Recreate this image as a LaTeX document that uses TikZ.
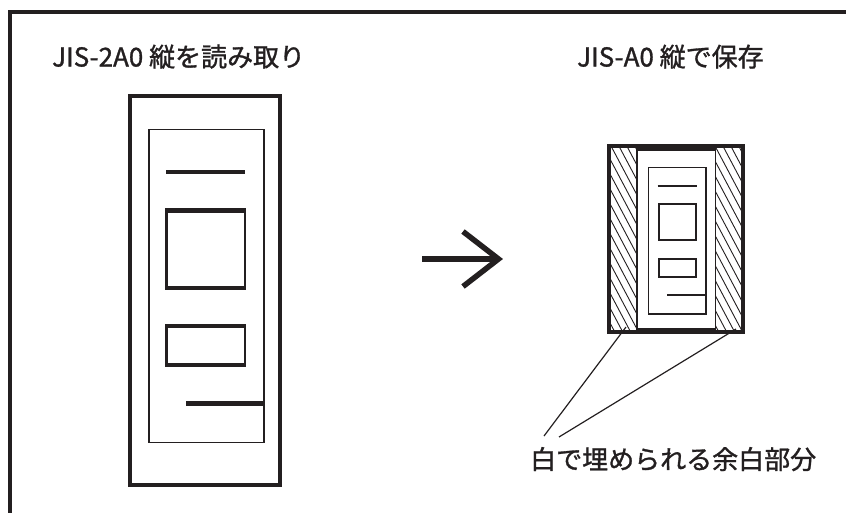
\documentclass[tikz,border=0pt]{standalone}
\usepackage{fontspec}
\setmainfont{Noto Sans CJK JP}
\newfontfamily\lblfont{Noto Sans CJK JP}[FakeBold=1.2]
\definecolor{ink}{RGB}{35,31,32}
\begin{document}
\begin{tikzpicture}[x=1pt,y=-1pt,color=ink,
  lbltext/.style={inner sep=0pt,text=ink,font=\lblfont\fontsize{26}{30}\selectfont,anchor=base west},
  thin/.style={line width=1.5pt},
  thick4/.style={line width=4.5pt},
  hatch/.style={line width=0.9pt}]
\useasboundingbox (0,0) rectangle (846,512);
\begin{scope}
\clip (0,0) rectangle (846,512);
% frame
\draw[line width=4pt] (10,530) -- (10,12) -- (860,12);
\end{scope}
% titles
\node[lbltext] (t1) at (52,66.5) {JIS-2A0 縦を読み取り};
\node[lbltext] (t2) at (577,66.5) {JIS-A0 縦で保存};
% left document
\draw[line width=4pt] (129.7,95.5) rectangle (280,485);
\draw[thin] (149,129.3) rectangle (264,442.3);
\draw[thick4] (166,172) -- (245,172);
\draw[line width=2.2pt] (166.5,210.8) rectangle (244.8,287.5);
\draw[thick4] (165.4,210.3) -- (245.9,210.3) (165.4,288) -- (245.9,288);
\draw[line width=2.2pt] (166.5,326.5) rectangle (244.8,364.5);
\draw[thick4] (165.4,326) -- (245.9,326) (165.4,364.8) -- (245.9,364.8);
\draw[thick4] (186,403.3) -- (264,403.3);
% arrow
\coordinate (arrS) at (422,259);
\coordinate (arrE) at (498.5,259);
\draw[line width=5.5pt] (arrS) -- (arrE);
\draw[line width=5.5pt,line join=miter,miter limit=10] (463,231.5) -- (arrE) -- (463,286.5);
% right document hatching
\begin{scope}
\clip (609,146) rectangle (637,332);
\foreach \i in {-28,...,6} {
  \draw[hatch] ({611+7.9*\i},146) -- ++(105,198);
}
\end{scope}
\begin{scope}
\clip (716,146) rectangle (742.5,332);
\foreach \i in {-28,...,6} {
  \draw[hatch] ({715+7.9*\i},146) -- ++(105,198);
}
\end{scope}
\draw[line width=4pt] (609,146) rectangle (742.5,332);
\draw[line width=1.5pt] (637,146) -- (637,332) (715.5,146) -- (715.5,332);
\draw[line width=6pt] (637,147.5) -- (715.5,147.5) (637,330.5) -- (715.5,330.5);
\draw[line width=1.4pt] (648.3,167.3) rectangle (706,314);
\draw[line width=2pt] (657.7,185.7) -- (696.7,185.7);
\draw[line width=2pt] (658.5,204) rectangle (696,240);
\draw[line width=2pt] (658.5,259) rectangle (696,276.5);
\draw[line width=2pt] (667.3,295) -- (706,295);
% callout
\node[lbltext] (lbl) at (530,469) {白で埋められる余白部分};
\coordinate (hatchL) at (626,327);
\coordinate (hatchR) at (736,329);
\coordinate (lblA) at (544,436);
\coordinate (lblB) at (559,437);
\draw[line width=1.2pt] (hatchL) -- (lblA);
\draw[line width=1.2pt] (hatchR) -- (lblB);
\end{tikzpicture}
\end{document}
